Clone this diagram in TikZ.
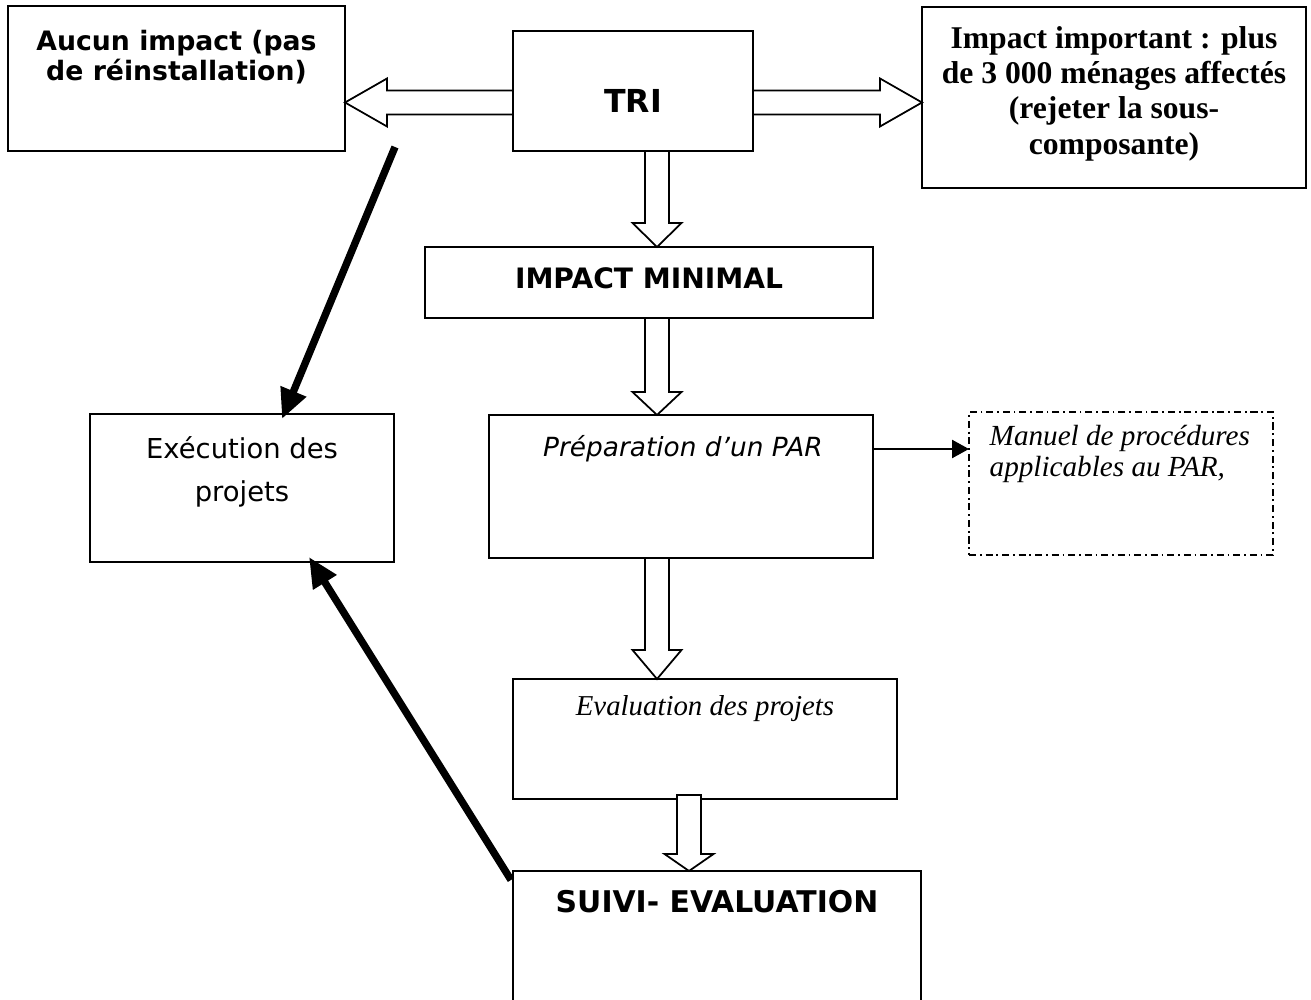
\documentclass[tikz,border=0pt]{standalone}
\usepackage{fontspec}
\setmainfont{Liberation Serif}
\newfontfamily\verdana{DejaVu Sans}
\usetikzlibrary{positioning,calc,arrows.meta}

\tikzset{
  box/.style={draw, line width=0.6pt, inner sep=0pt, outer sep=0pt},
  dashbox/.style={box, dash pattern=on 2pt off 1.1pt on 0.5pt off 1.1pt},
  hollow/.style={draw, line width=0.5pt, fill=white, line join=miter},
  boldsans/.style={inner sep=0pt, align=center, font=\verdana\bfseries\fontsize{8}{9}\selectfont},
  plainsans/.style={inner sep=0pt, align=center, font=\verdana\fontsize{7.8}{12.1}\selectfont},
  slantsans/.style={inner sep=0pt, align=center, font=\verdana\itshape\fontsize{7.5}{9}\selectfont},
  boldserif/.style={inner sep=0pt, align=center, font=\bfseries\fontsize{9}{10}\selectfont},
  slantserif/.style={inner sep=0pt, align=left, font=\itshape\fontsize{8.3}{8.7}\selectfont},
  thickarrow/.style={line width=2.1pt, -{Triangle[length=3mm,width=2.6mm]}},
  thinarrow/.style={line width=0.7pt, -{Triangle[length=1.7mm,width=1.8mm]}}
}

% 白抜きの矢印 (下向き)
\newcommand{\hollowdown}[3]{%
  \draw[hollow] let \p1=(#1), \p2=(#2) in
    ({\x1-1.2mm},\y1) -- ({\x1-1.2mm},{\y2+#3}) -- ({\x1-2.45mm},{\y2+#3})
    -- (\x1,\y2) -- ({\x1+2.45mm},{\y2+#3}) -- ({\x1+1.2mm},{\y2+#3})
    -- ({\x1+1.2mm},\y1) -- cycle;}
% 白抜きの矢印 (横向き)
\newcommand{\hollowside}[3]{%
  \draw[hollow] let \p1=(#1), \p2=(#2) in
    (\x1,{\y1+1.2mm}) -- ({\x2+(#3)},{\y1+1.2mm}) -- ({\x2+(#3)},{\y1+2.4mm})
    -- (\x2,\y1) -- ({\x2+(#3)},{\y1-2.4mm}) -- ({\x2+(#3)},{\y1-1.2mm})
    -- (\x1,{\y1-1.2mm}) -- cycle;}

\begin{document}
\begin{tikzpicture}
  \useasboundingbox (0,0) rectangle (13.11,-10);

  % 箱
  \node[box, minimum width=3.37cm, minimum height=1.45cm] (aucun) at (1.765,-0.785) {};
  \node[box, minimum width=2.40cm, minimum height=1.20cm] (tri) at (6.33,-0.91) {};
  \node[box, minimum width=3.84cm, minimum height=1.81cm] (important) at (11.14,-0.975) {};
  \node[box, minimum width=4.48cm, minimum height=0.71cm] (minimal) at (6.49,-2.825) {};
  \node[box, minimum width=3.84cm, minimum height=1.43cm] (par) at (6.81,-4.865) {};
  \node[dashbox, minimum width=3.04cm, minimum height=1.43cm] (manuel) at (11.21,-4.835) {};
  \node[box, minimum width=3.04cm, minimum height=1.48cm] (exec) at (2.42,-4.88) {};
  \node[box, minimum width=3.84cm, minimum height=1.20cm] (evaluation) at (7.05,-7.39) {};
  \node[box, minimum width=4.08cm, minimum height=1.39cm] (suivi) at (7.17,-9.405) {};

  % 文字
  \node[boldsans, font=\verdana\bfseries\fontsize{7.6}{8.3}\selectfont, below=0.24cm of aucun.north] (aucun-t)
    {Aucun impact (pas\\de réinstallation)};
  \node[boldsans, font=\verdana\bfseries\fontsize{9}{10}\selectfont] (tri-t) at ($(tri.center)+(0,-0.10)$) {TRI};
  \node[boldserif, below=0.19cm of important.north] (important-t)
    {Impact important : plus\\de 3~000 ménages affectés\\(rejeter la sous-\\composante)};
  \node[boldsans] (minimal-t) at ($(minimal.center)+(0,0.045)$) {IMPACT MINIMAL};
  \node[slantsans, below=0.20cm of par.north, xshift=0.02cm] (par-t) {Préparation d’un PAR};
  \node[slantserif, anchor=north west] (manuel-t) at ($(manuel.north west)+(0.20,-0.13)$)
    {Manuel de procédures\\applicables au PAR,};
  \node[plainsans, below=0.22cm of exec.north] (exec-t) {Exécution des\\projets};
  \node[slantserif, font=\itshape\fontsize{8.2}{9}\selectfont, below=0.16cm of evaluation.north] (evaluation-t)
    {Evaluation des projets};
  \node[boldsans, font=\verdana\bfseries\fontsize{8.5}{10}\selectfont, below=0.19cm of suivi.north] (suivi-t)
    {SUIVI- EVALUATION};

  % 白抜きの矢印
  \hollowside{$(tri.west)+(0,-0.115)$}{aucun.east}{4.2mm}
  \hollowside{$(tri.east)+(0,-0.115)$}{important.west}{-4.2mm}
  \hollowdown{$(tri.south)+(0.24,0)$}{minimal.north}{2.4mm}
  \hollowdown{$(minimal.south)+(0.08,0)$}{par.north}{2.3mm}
  \hollowdown{$(par.south)+(-0.24,0)$}{evaluation.north}{2.9mm}
  \hollowdown{$(evaluation.south)+(-0.16,0.04)$}{suivi.north}{1.7mm}

  % 細い矢印
  \draw[thinarrow] ($(par.north east)+(0,-0.34)$) -- ($(manuel.north west)+(0,-0.37)$);

  % 太い矢印
  \coordinate (depart) at (3.95,-1.47);
  \draw[thickarrow] (depart) -- ($(exec.north)+(0.40,-0.05)$);
  \draw[thickarrow] ($(suivi.north west)+(-0.02,-0.09)$) -- ($(exec.south)+(0.67,0.05)$);
\end{tikzpicture}
\end{document}
